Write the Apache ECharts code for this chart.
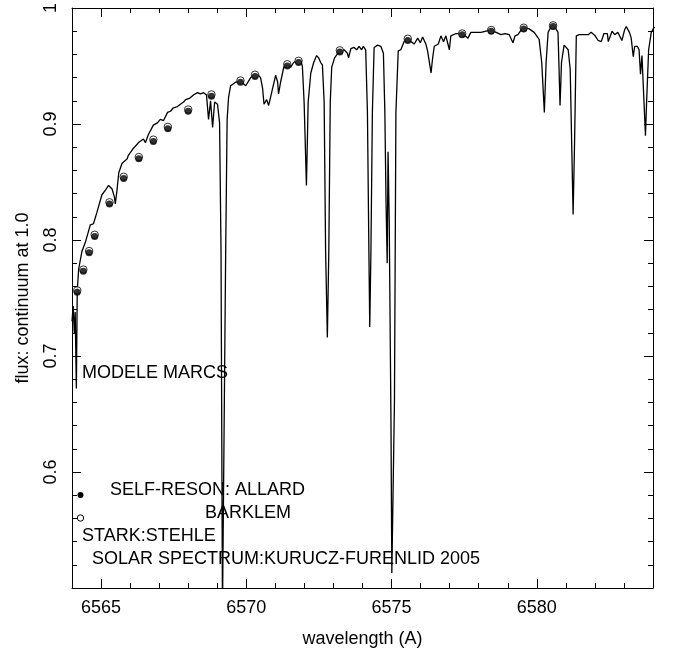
<!DOCTYPE html>
<html>
<head>
<meta charset="utf-8">
<script src="https://cdn.jsdelivr.net/npm/echarts@6/dist/echarts.min.js"></script>
<style>
html,body{margin:0;padding:0;background:#fff;}
#chart{width:675px;height:659px;}
</style>
</head>
<body>
<div id="chart"></div>
<script>
// ---- data ----
const specWave = [
6564.00,6564.04,6564.08,6564.11,6564.15,6564.18,6564.23,6564.34,6564.46,6564.63,6564.74,6564.86,
6565.03,6565.15,6565.26,6565.38,6565.46,6565.49,6565.54,6565.61,6565.72,6565.90,6565.94,
6566.08,6566.29,6566.46,6566.53,6566.63,6566.80,6566.94,6567.04,6567.15,6567.29,6567.39,6567.49,
6567.63,6567.73,6567.84,6567.91,6568.04,6568.18,6568.32,6568.42,6568.53,6568.63,6568.70,6568.77,
6568.84,6568.91,6569.01,6569.08,6569.13,6569.18,6569.23,6569.29,6569.34,6569.39,6569.46,6569.63,
6569.80,6569.98,6570.15,6570.25,6570.39,6570.49,6570.56,6570.61,6570.70,6570.77,6570.90,6571.01,
6571.08,6571.11,6571.18,6571.29,6571.41,6571.53,6571.63,6571.76,6571.87,6571.93,6571.99,6572.07,
6572.13,6572.22,6572.32,6572.42,6572.49,6572.56,6572.62,6572.68,6572.73,6572.79,6572.84,6572.89,
6572.94,6573.04,6573.15,6573.22,6573.37,6573.48,6573.52,6573.60,6573.71,6573.80,6573.88,6573.97,
6574.03,6574.11,6574.17,6574.22,6574.25,6574.29,6574.34,6574.40,6574.52,6574.63,6574.72,6574.77,
6574.81,6574.85,6574.88,6574.92,6574.98,6575.01,6575.05,6575.10,6575.15,6575.23,6575.32,6575.43,
6575.53,6575.67,6575.78,6575.90,6575.99,6576.07,6576.18,6576.24,6576.36,6576.41,6576.47,6576.61,
6576.70,6576.79,6576.87,6576.99,6577.04,6577.22,6577.42,6577.53,6577.63,6577.73,6577.91,6578.08,
6578.25,6578.43,6578.60,6578.77,6578.91,6579.05,6579.11,6579.18,6579.25,6579.35,6579.46,6579.56,
6579.74,6579.91,6580.08,6580.17,6580.26,6580.32,6580.39,6580.49,6580.56,6580.66,6580.73,6580.76,
6580.80,6580.85,6580.94,6581.01,6581.08,6581.15,6581.20,6581.25,6581.30,6581.36,6581.46,6581.63,
6581.77,6581.87,6582.01,6582.11,6582.22,6582.31,6582.43,6582.46,6582.59,6582.68,6582.79,6582.93,
6583.02,6583.08,6583.19,6583.25,6583.32,6583.37,6583.46,6583.52,6583.57,6583.62,6583.69,6583.74,
6583.78,6583.85,6583.94,6584.03,6584.11
];
const specFlux = [
0.730,0.743,0.719,0.738,0.672,0.756,0.775,0.790,0.798,0.813,0.814,0.824,
0.839,0.843,0.847,0.844,0.837,0.831,0.841,0.858,0.866,0.870,0.873,
0.878,0.884,0.887,0.884,0.891,0.899,0.901,0.904,0.903,0.910,0.911,0.914,
0.915,0.917,0.919,0.921,0.922,0.925,0.927,0.926,0.927,0.925,0.904,0.920,
0.897,0.919,0.917,0.901,0.790,0.480,0.480,0.790,0.904,0.923,0.933,0.936,
0.937,0.933,0.940,0.942,0.943,0.940,0.931,0.917,0.921,0.916,0.930,0.942,
0.936,0.926,0.936,0.949,0.951,0.949,0.953,0.955,0.955,0.950,0.919,0.847,
0.919,0.944,0.953,0.959,0.957,0.953,0.951,0.919,0.790,0.716,0.790,0.919,
0.949,0.957,0.961,0.963,0.964,0.961,0.957,0.965,0.966,0.964,0.967,0.964,
0.967,0.964,0.910,0.790,0.725,0.790,0.910,0.966,0.968,0.967,0.961,0.910,
0.833,0.780,0.876,0.816,0.644,0.513,0.513,0.661,0.910,0.963,0.964,0.971,
0.974,0.971,0.969,0.974,0.970,0.975,0.969,0.963,0.944,0.956,0.967,0.969,
0.976,0.971,0.976,0.964,0.976,0.978,0.978,0.976,0.974,0.979,0.979,0.979,
0.980,0.981,0.979,0.977,0.978,0.977,0.976,0.970,0.976,0.977,0.981,0.983,
0.982,0.979,0.973,0.953,0.910,0.953,0.979,0.984,0.985,0.982,0.979,0.953,
0.916,0.953,0.968,0.966,0.964,0.947,0.884,0.822,0.884,0.976,0.977,0.977,
0.977,0.979,0.976,0.972,0.971,0.978,0.978,0.971,0.980,0.977,0.979,0.972,
0.981,0.984,0.979,0.974,0.958,0.967,0.967,0.964,0.943,0.959,0.919,0.890,
0.919,0.964,0.979,0.983,0.984
];
const ptWave = [6564.18,6564.39,6564.59,6564.78,6565.29,6565.78,6566.30,6566.80,6567.30,6568.00,6568.80,
                6569.80,6570.30,6571.41,6571.80,6573.22,6575.56,6577.43,6578.43,6579.55,6580.56];
const allardFlux = [0.755,0.773,0.789,0.803,0.831,0.853,0.870,0.885,0.896,0.911,0.924,
                    0.936,0.941,0.950,0.953,0.962,0.972,0.977,0.980,0.982,0.984];
const starkFlux  = [0.7565,0.7745,0.7905,0.8045,0.8325,0.8545,0.8715,0.8865,0.8975,0.9125,0.9255,
                    0.9375,0.9425,0.9515,0.9545,0.9635,0.9735,0.978,0.981,0.983,0.985];
const xMajorTicks = [6565,6570,6575,6580];
const xLabel = 'wavelength (A)';
const yLabel = 'flux: continuum at 1.0';
const notes = ['MODELE MARCS','SELF-RESON: ALLARD','BARKLEM','STARK:STEHLE','SOLAR SPECTRUM:KURUCZ-FURENLID 2005'];

// ---- chart ----
const FONT = 'Liberation Sans';
const zip = (a,b) => a.map((v,i)=>[v,b[i]]);
const chart = echarts.init(document.getElementById('chart'), null, {renderer:'canvas'});
const lineCol = '#000';
const xBase = {type:'value', min:6564, max:6584, splitLine:{show:false},
  axisLine:{show:true, onZero:false, lineStyle:{color:lineCol,width:1}}};
const option = {
  animation:false,
  backgroundColor:'#fff',
  grid:{left:72, right:22, top:5, bottom:71, containLabel:false},
  xAxis:[
    Object.assign({}, xBase, {position:'bottom',
      axisTick:{show:true, inside:true, length:9, customValues:xMajorTicks, lineStyle:{color:lineCol}},
      axisLabel:{show:true, customValues:xMajorTicks, margin:11, color:'#000', fontFamily:FONT, fontSize:18,
        formatter:v=>String(Math.round(v))},
      name:xLabel, nameLocation:'middle', nameGap:42,
      nameTextStyle:{color:'#000', fontFamily:FONT, fontSize:18}}),
    Object.assign({}, xBase, {position:'bottom', interval:1,
      axisLine:{show:false}, axisLabel:{show:false},
      axisTick:{show:true, inside:true, length:5, lineStyle:{color:lineCol}}}),
    Object.assign({}, xBase, {position:'top',
      axisTick:{show:true, inside:true, length:9, customValues:xMajorTicks, lineStyle:{color:lineCol}},
      axisLabel:{show:false}}),
    Object.assign({}, xBase, {position:'top', interval:1,
      axisLine:{show:false}, axisLabel:{show:false},
      axisTick:{show:true, inside:true, length:5, lineStyle:{color:lineCol}}})
  ],
  yAxis:[
    {type:'value', position:'left', min:0.5, max:1.0, interval:0.1,
     splitLine:{show:false},
     axisLine:{show:true, onZero:false, lineStyle:{color:lineCol}},
     axisTick:{show:true, inside:true, length:9, lineStyle:{color:lineCol}},
     minorTick:{show:true, splitNumber:5, length:5, lineStyle:{color:lineCol}},
     axisLabel:{show:true, rotate:90, margin:12, color:'#000', fontFamily:FONT, fontSize:18,
       formatter:v=>{const r=Math.round(v*10)/10; return r===0.5?'':(r===1?'1':r.toFixed(1));}},
     name:yLabel, nameLocation:'middle', nameGap:40,
     nameTextStyle:{color:'#000', fontFamily:FONT, fontSize:18}},
    {type:'value', position:'right', min:0.5, max:1.0, interval:0.1,
     splitLine:{show:false},
     axisLine:{show:true, onZero:false, lineStyle:{color:lineCol}},
     axisTick:{show:true, inside:true, length:9, lineStyle:{color:lineCol}},
     minorTick:{show:true, splitNumber:5, length:5, lineStyle:{color:lineCol}},
     axisLabel:{show:false}}
  ],
  series:[
    {type:'line', xAxisIndex:0, yAxisIndex:0, data:zip(specWave,specFlux),
     showSymbol:false, symbol:'none', clip:true, smooth:false,
     lineStyle:{color:'#000', width:1.3}, z:2},
    {type:'scatter', xAxisIndex:0, yAxisIndex:0, data:zip(ptWave,starkFlux),
     symbol:'circle', symbolSize:7.5,
     itemStyle:{color:'#fff', borderColor:'#000', borderWidth:1}, z:3},
    {type:'scatter', xAxisIndex:0, yAxisIndex:0, data:zip(ptWave,allardFlux),
     symbol:'circle', symbolSize:7,
     itemStyle:{color:'#000'}, z:4}
  ],
  graphic:[
    {type:'text', x:82, y:373, style:{text:notes[0], font:'18px "Liberation Sans"', fill:'#000', verticalAlign:'middle'}},
    {type:'text', x:110, y:490, style:{text:notes[1], font:'18px "Liberation Sans"', fill:'#000', verticalAlign:'middle'}},
    {type:'text', x:205, y:513, style:{text:notes[2], font:'18px "Liberation Sans"', fill:'#000', verticalAlign:'middle'}},
    {type:'text', x:82, y:536, style:{text:notes[3], font:'18px "Liberation Sans"', fill:'#000', verticalAlign:'middle'}},
    {type:'text', x:92, y:559, style:{text:notes[4], font:'18px "Liberation Sans"', fill:'#000', verticalAlign:'middle'}},
    {type:'circle', shape:{cx:80.5, cy:495, r:3}, style:{fill:'#000'}},
    {type:'circle', shape:{cx:80.5, cy:518, r:3.2}, style:{fill:'#fff', stroke:'#000', lineWidth:1}}
  ]
};
chart.setOption(option);
</script>
</body>
</html>
